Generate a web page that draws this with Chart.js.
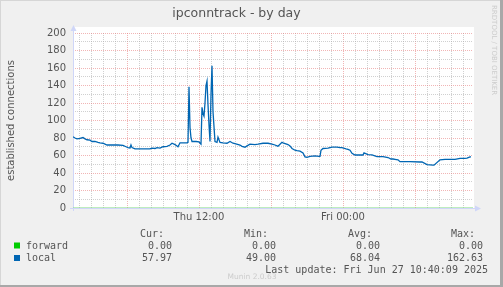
<!DOCTYPE html>
<html><head><meta charset="utf-8">
<script src="https://cdn.jsdelivr.net/npm/chart.js@4/dist/chart.umd.min.js"></script>
<style>html,body{margin:0;padding:0;background:#f0f0f0;overflow:hidden}#wrap{position:relative;width:503px;height:287px}</style>
</head><body><div id="wrap"><canvas id="c" width="503" height="287"></canvas></div>
<script>
// time axis: minutes since Thu 00:00
const minutes = [90,100,110,125,140,150,160,175,185,200,215,225,240,260,285,315,340,355,365,375,380,385,400,425,450,475,485,500,510,525,540,560,575,585,600,615,625,640,660,665,670,675,680,685,705,720,730,735,740,745,750,755,760,765,770,775,780,785,790,800,810,815,825,840,860,875,890,900,925,935,950,960,975,1000,1015,1040,1050,1065,1085,1100,1110,1115,1135,1140,1165,1175,1185,1200,1210,1225,1240,1250,1260,1275,1300,1320,1325,1330,1340,1365,1385,1410,1425,1435,1455,1465,1475,1485,1500,1535,1540,1545,1565,1585,1610,1625,1640,1665,1680,1690,1700,1715,1725,1775,1825,1835,1860,1890,1895,1925,1950,1975,2000,2025,2050,2060,2075,2080];
const local = [81.5,80,79,79.5,80.5,79,78,77.5,76,76,75,74.5,74,72,72,72,71.5,70,69,68.5,72,69,67.5,67.5,67.5,67.5,68.5,68,69,68.5,70,70.5,72,74,72.5,70,74.5,74.5,74.5,75,138.6,92,80,76,76,75.5,73,115,108,105,120,140,145,118,95,76,130,162.6,110,76,75,81,75,74.5,74,76,74,73.5,72,70.5,69.5,71,73,72.5,73,74,74,74,73,72,71,70.5,75,74.5,72.5,71,68,66,65.5,65,63,58.5,58,59,59.5,59,59,66,68,68.5,69.5,69.5,69,69,67.5,67,66,62.5,60.6,60.6,60.6,63,61,60.6,58.7,58.7,58.7,57.7,56,56,55.6,55,53,53,52.6,52.6,49.5,49,49,55,55.5,55.5,55.5,56.7,56.7,57,58.5,58.5,57.97];
const forwardMinutes = [90, 2090];
const forward = [0, 0];
const xRange = [90, 2090];
const yRange = [0, 200];
const xTickLabels = {720: 'Thu 12:00', 1440: 'Fri 00:00'};
const seriesNames = ['forward', 'local'];
const seriesColors = ['#00cc00', '#0066b3'];
const legendHeaders = ['Cur:', 'Min:', 'Avg:', 'Max:'];
const legendValues = [['0.00','0.00','0.00','0.00'], ['57.97','49.00','68.04','162.63']];
const lastUpdate = 'Last update: Fri Jun 27 10:40:09 2025';

const MAJOR = 'rgba(230,120,120,0.55)';
const MINOR = 'rgba(170,170,170,0.55)';
const AXIS = '#cfd6f8';

const bgPlugin = {
  id: 'bg',
  beforeDraw(chart) {
    const {ctx, chartArea: a, width, height} = chart;
    ctx.save();
    ctx.fillStyle = '#f0f0f0';
    ctx.fillRect(0, 0, width, height);
    ctx.fillStyle = '#ffffff';
    ctx.fillRect(a.left, a.top - 6, a.right - a.left + 1, a.bottom - a.top + 6);
    // shading borders
    ctx.fillStyle = '#d6d6d6';
    ctx.fillRect(0, 0, width, 1);
    ctx.fillRect(0, 0, 1, height);
    ctx.fillStyle = '#a8a8a8';
    ctx.fillRect(width - 3, 0, 3, height);
    ctx.fillRect(0, height - 2, width, 2);
    ctx.restore();
  },
  beforeDatasetsDraw(chart) {
    const {ctx, chartArea: a} = chart;
    ctx.save();
    ctx.strokeStyle = AXIS; ctx.fillStyle = AXIS; ctx.lineWidth = 1;
    ctx.beginPath();
    ctx.moveTo(a.left + 0.5, a.bottom + 3); ctx.lineTo(a.left + 0.5, a.top - 4);
    ctx.moveTo(a.left - 3, a.bottom + 0.5); ctx.lineTo(a.right + 3, a.bottom + 0.5);
    ctx.stroke();
    ctx.beginPath();
    ctx.moveTo(a.left + 0.5, a.top - 8); ctx.lineTo(a.left - 2.5, a.top - 2); ctx.lineTo(a.left + 3.5, a.top - 2); ctx.closePath(); ctx.fill();
    ctx.beginPath();
    ctx.moveTo(a.right + 8, a.bottom + 0.5); ctx.lineTo(a.right + 2, a.bottom - 2.5); ctx.lineTo(a.right + 2, a.bottom + 3.5); ctx.closePath(); ctx.fill();
    ctx.restore();
  },
  afterDraw(chart) {
    const {ctx} = chart;
    ctx.save();
    ctx.font = '10px "DejaVu Sans Mono"';
    ctx.fillStyle = '#555555';
    ctx.textBaseline = 'alphabetic';
    const headerX = [164, 268, 372, 475];
    const valueX = [172, 276, 380, 483];
    ctx.textAlign = 'right';
    legendHeaders.forEach((h, i) => ctx.fillText(h, headerX[i], 236.5));
    const rowY = [248.5, 261];
    seriesNames.forEach((n, r) => {
      ctx.fillStyle = seriesColors[r];
      ctx.fillRect(14, rowY[r] - 6, 6, 6);
      ctx.fillStyle = '#555555';
      ctx.textAlign = 'left';
      ctx.fillText(n, 26, rowY[r]);
      ctx.textAlign = 'right';
      legendValues[r].forEach((v, i) => ctx.fillText(v, valueX[i], rowY[r]));
    });
    ctx.fillText(lastUpdate, 488, 273);
    ctx.font = '7.5px "DejaVu Sans"';
    ctx.fillStyle = '#cccccc';
    ctx.textAlign = 'center';
    ctx.fillText('Munin 2.0.63', 252, 279);
    ctx.translate(494, 5);
    ctx.rotate(Math.PI / 2);
    ctx.textAlign = 'left';
    ctx.textBaseline = 'middle';
    ctx.font = '7px "DejaVu Sans"';
    ctx.fillText('RRDTOOL / TOBI OETIKER', 0, 0);
    ctx.restore();
  }
};

new Chart(document.getElementById('c'), {
  type: 'line',
  data: {
    datasets: [
      {label: seriesNames[0], data: forwardMinutes.map((m, i) => ({x: m, y: forward[i]})), borderColor: '#7fdc7f', borderWidth: 1.2, pointRadius: 0, tension: 0},
      {label: seriesNames[1], data: minutes.map((m, i) => ({x: m, y: local[i]})), borderColor: seriesColors[1], borderWidth: 1.3, pointRadius: 0, tension: 0}
    ]
  },
  options: {
    responsive: false, animation: false, devicePixelRatio: 1,
    layout: {padding: {left: 0, right: 30, top: 0, bottom: 0}},
    plugins: {
      legend: {display: false}, tooltip: {enabled: false},
      title: {display: true, text: 'ipconntrack - by day', color: '#555555', font: {family: 'DejaVu Sans', size: 12.5, weight: 'normal'}, padding: {top: 6, bottom: 12}}
    },
    scales: {
      x: {
        type: 'linear', min: xRange[0], max: xRange[1],
        afterBuildTicks(s) { const t = []; for (let v = 120; v <= 2040; v += 60) t.push({value: v}); s.ticks = t; },
        afterFit(s) { s.height = 79; },
        ticks: {autoSkip: false, maxRotation: 0, padding: 3, color: '#555555', font: {family: 'DejaVu Sans', size: 10}, callback: v => xTickLabels[v] || ''},
        grid: {drawTicks: false, lineWidth: 1, color: c => (c.tick && c.tick.value % 360 === 0) ? MAJOR : MINOR},
        border: {display: false, dash: [1, 1]}
      },
      y: {
        min: yRange[0], max: yRange[1],
        afterBuildTicks(s) { const t = []; for (let v = 0; v <= 200; v += 10) t.push({value: v}); s.ticks = t; },
        afterFit(s) { s.width = 73; },
        ticks: {autoSkip: false, padding: 7, color: '#555555', font: {family: 'DejaVu Sans', size: 10}, callback: v => v % 20 === 0 ? String(v) : ''},
        grid: {drawTicks: false, lineWidth: 1, color: c => (c.tick && c.tick.value % 20 === 0) ? MAJOR : MINOR},
        border: {display: false, dash: [1, 1]},
        title: {display: true, text: 'established connections', color: '#555555', font: {family: 'DejaVu Sans', size: 10}, padding: {top: 5, bottom: 0}}
      }
    }
  },
  plugins: [bgPlugin]
});
</script></body></html>
